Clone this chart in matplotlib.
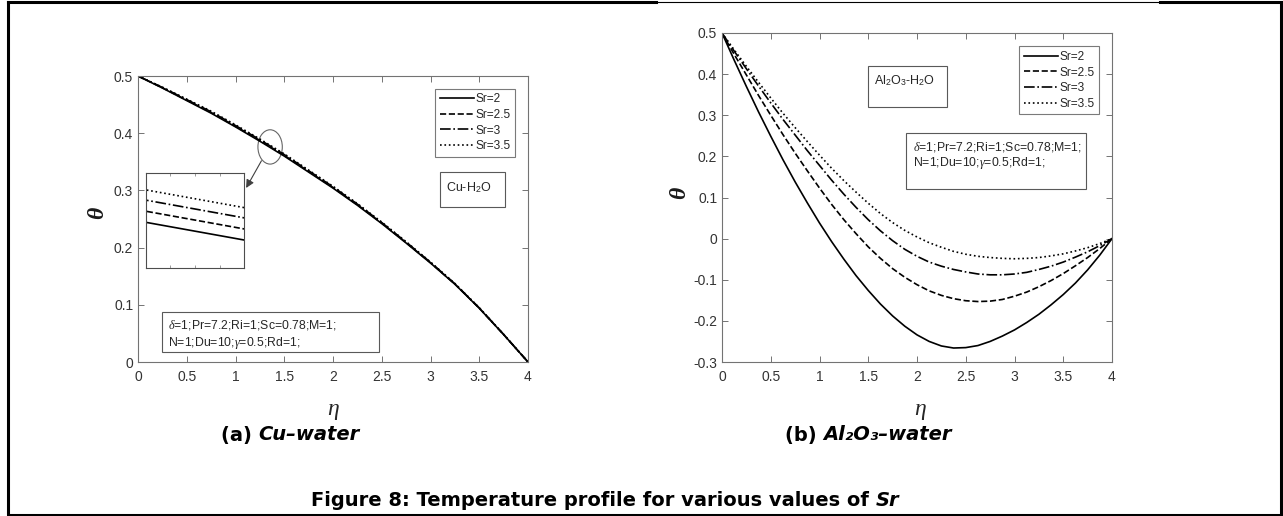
import matplotlib
matplotlib.use('Agg')
import matplotlib.pyplot as plt
from matplotlib.patches import Rectangle, Ellipse
from matplotlib.lines import Line2D

plt.rcParams['font.family'] = ['Liberation Sans', 'DejaVu Sans']
plt.rcParams['mathtext.fontset'] = 'custom'
plt.rcParams['mathtext.rm'] = 'Liberation Sans'
plt.rcParams['mathtext.it'] = 'Liberation Serif:italic'

# data
sr_labels = ['Sr=2', 'Sr=2.5', 'Sr=3', 'Sr=3.5']

# (a) Cu-water
eta_a = [0, 0.25, 0.5, 0.75, 1.0, 1.25, 1.5, 1.75, 2.0, 2.25, 2.5, 2.75, 3.0, 3.25, 3.5, 3.75, 4.0]
cu_sr2 = [0.5, 0.479, 0.457, 0.435, 0.411, 0.386, 0.360, 0.332, 0.304, 0.274, 0.242, 0.208, 0.173, 0.136, 0.094, 0.048, 0.0]
cu_sr25 = [0.5, 0.4795, 0.4579, 0.4362, 0.4122, 0.3873, 0.3613, 0.3332, 0.3051, 0.2750, 0.2429, 0.2088, 0.1736, 0.1364, 0.0943, 0.0481, 0.0]
cu_sr3 = [0.5, 0.4800, 0.4587, 0.4374, 0.4134, 0.3886, 0.3626, 0.3344, 0.3062, 0.2760, 0.2438, 0.2096, 0.1742, 0.1368, 0.0946, 0.0482, 0.0]
cu_sr35 = [0.5, 0.4805, 0.4595, 0.4385, 0.4146, 0.3898, 0.3638, 0.3355, 0.3072, 0.2769, 0.2446, 0.2103, 0.1748, 0.1372, 0.0949, 0.0483, 0.0]

# (b) Al2O3-water
eta_b = [0, 0.125, 0.25, 0.375, 0.5, 0.625, 0.75, 0.875, 1.0, 1.125, 1.25, 1.375, 1.5, 1.625,
         1.75, 1.875, 2.0, 2.125, 2.25, 2.375, 2.5, 2.625, 2.75, 2.875, 3.0, 3.125, 3.25,
         3.375, 3.5, 3.625, 3.75, 3.875, 4.0]
al_sr2 = [0.5, 0.434, 0.370, 0.308, 0.249, 0.192, 0.138, 0.087, 0.038, -0.0075, -0.050, -0.090,
          -0.126, -0.159, -0.188, -0.213, -0.234, -0.250, -0.261, -0.266, -0.265, -0.260, -0.250,
          -0.237, -0.222, -0.204, -0.184, -0.161, -0.136, -0.108, -0.076, -0.040, 0.0]
al_sr25 = [0.5, 0.448, 0.398, 0.348, 0.300, 0.253, 0.208, 0.165, 0.123, 0.083, 0.046, 0.012,
           -0.020, -0.048, -0.073, -0.094, -0.112, -0.127, -0.138, -0.146, -0.151, -0.153, -0.152,
           -0.148, -0.140, -0.130, -0.117, -0.102, -0.085, -0.066, -0.046, -0.024, 0.0]
al_sr3 = [0.5, 0.456, 0.413, 0.371, 0.330, 0.290, 0.252, 0.214, 0.178, 0.142, 0.108, 0.076,
          0.046, 0.019, -0.005, -0.026, -0.043, -0.057, -0.067, -0.075, -0.081, -0.086, -0.088,
          -0.088, -0.086, -0.082, -0.075, -0.067, -0.057, -0.045, -0.032, -0.017, 0.0]
al_sr35 = [0.5, 0.459, 0.419, 0.380, 0.342, 0.305, 0.270, 0.236, 0.203, 0.171, 0.141, 0.113,
           0.086, 0.061, 0.039, 0.020, 0.004, -0.010, -0.021, -0.031, -0.038, -0.043, -0.046,
           -0.048, -0.049, -0.048, -0.046, -0.042, -0.037, -0.030, -0.022, -0.012, 0.0]

xticks = [0, 0.5, 1, 1.5, 2, 2.5, 3, 3.5, 4]
xticklabels = ['0', '0.5', '1', '1.5', '2', '2.5', '3', '3.5', '4']
yticks_a = [0, 0.1, 0.2, 0.3, 0.4, 0.5]
yticklabels_a = ['0', '0.1', '0.2', '0.3', '0.4', '0.5']
yticks_b = [-0.3, -0.2, -0.1, 0, 0.1, 0.2, 0.3, 0.4, 0.5]
yticklabels_b = ['-0.3', '-0.2', '-0.1', '0', '0.1', '0.2', '0.3', '0.4', '0.5']

params1 = r'$\delta$=1;Pr=7.2;Ri=1;Sc=0.78;M=1;'
params2 = r'N=1;Du=10;$\gamma$=0.5;Rd=1;'

styles = ['-', '--', '-.', ':']
W, H = 1283, 516
spine_c = '0.45'
box_c = '0.35'

fig = plt.figure(figsize=(W / 100, H / 100), dpi=100)
renderer = fig.canvas.get_renderer()

ax1 = fig.add_axes([138 / W, 1 - 362 / H, 390 / W, 286 / H])
ax2 = fig.add_axes([722 / W, 1 - 362 / H, 390 / W, 329 / H])


def style_axes(ax, yt, ytl, ylim):
    ax.set_xlim(0, 4)
    ax.set_ylim(*ylim)
    ax.set_xticks(xticks)
    ax.set_xticklabels(xticklabels)
    ax.set_yticks(yt)
    ax.set_yticklabels(ytl)
    ax.tick_params(direction='in', top=True, right=True, length=4, width=0.7,
                   colors=spine_c, labelcolor='0.2', labelsize=10)
    ax.tick_params(axis='x', pad=6)
    for s in ax.spines.values():
        s.set_color(spine_c)
        s.set_linewidth(0.8)


def add_legend(ax, x1, y1):
    handles = [Line2D([], [], color='black', lw=1.2, ls=st) for st in styles]
    leg = ax.legend(handles, sr_labels, loc='upper right', bbox_to_anchor=(x1, y1),
                    bbox_transform=ax.transData, fontsize=8.6, frameon=True,
                    fancybox=False, handlelength=2.9, handletextpad=0.1,
                    labelspacing=0.3, borderpad=0.4, borderaxespad=0)
    leg.get_frame().set_edgecolor(box_c)
    leg.get_frame().set_linewidth(0.8)
    for t in leg.get_texts():
        t.set_color('0.15')


def add_box(ax, x0, y0, x1, y1):
    ax.add_patch(Rectangle((x0, y0), x1 - x0, y1 - y0, fill=False,
                           edgecolor=box_c, lw=0.8, zorder=3))


def two_part(xc, y, part1, part2, size):
    # bold upright part followed by bold italic part, centred as a whole
    t1 = fig.text(0, 1 - y / H, part1, fontsize=size, weight='bold', family='DejaVu Sans',
                  ha='left', va='center')
    t2 = fig.text(0, 1 - y / H, part2, fontsize=size, weight='bold', style='italic',
                  family='DejaVu Sans', ha='left', va='center')
    w1 = t1.get_window_extent(renderer).width
    w2 = t2.get_window_extent(renderer).width
    x0 = xc - (w1 + w2) / 2
    t1.set_x(x0 / W)
    t2.set_x((x0 + w1) / W)


# (a)
for y, st in zip([cu_sr2, cu_sr25, cu_sr3, cu_sr35], styles):
    ax1.plot(eta_a, y, color='black', ls=st, lw=1.2)
style_axes(ax1, yticks_a, yticklabels_a, (0, 0.5))
add_legend(ax1, 3.87, 0.478)
add_box(ax1, 3.10, 0.271, 3.76, 0.333)
ax1.text(3.16, 0.305, 'Cu-H$_2$O', fontsize=9, color='0.15', va='center')
add_box(ax1, 0.25, 0.017, 2.47, 0.087)
ax1.text(0.31, 0.064, params1, fontsize=8.8, color='0.15', va='center')
ax1.text(0.31, 0.034, params2, fontsize=8.8, color='0.15', va='center')

# zoom circle, arrow and inset
ax1.add_patch(Ellipse((1.355, 0.376), 0.25, 0.06, fill=False, edgecolor='0.4', lw=0.8))
ax1.annotate('', xy=(1.095, 0.30), xytext=(1.28, 0.356),
             arrowprops=dict(arrowstyle='-|>', color='0.25', lw=0.8, mutation_scale=12))
axin = ax1.inset_axes([0.08, 0.164, 1.01, 0.167], transform=ax1.transData)
for y, st in zip([cu_sr2, cu_sr25, cu_sr3, cu_sr35], styles):
    axin.plot(eta_a, y, color='black', ls=st, lw=1.2)
axin.set_xlim(1.34, 1.36)
axin.set_ylim(0.37126, 0.38246)
axin.set_xticks([1.345, 1.35, 1.355])
axin.set_yticks([])
axin.tick_params(direction='in', top=True, length=2, width=0.5, colors=spine_c,
                 labelbottom=False)
for s in axin.spines.values():
    s.set_color('0.3')
    s.set_linewidth(0.8)

# (b)
for y, st in zip([al_sr2, al_sr25, al_sr3, al_sr35], styles):
    ax2.plot(eta_b, y, color='black', ls=st, lw=1.2)
style_axes(ax2, yticks_b, yticklabels_b, (-0.3, 0.5))
add_legend(ax2, 3.87, 0.468)
add_box(ax2, 1.50, 0.320, 2.31, 0.419)
ax2.text(1.56, 0.384, 'Al$_2$O$_3$-H$_2$O', fontsize=9, color='0.15', va='center')
add_box(ax2, 1.89, 0.121, 3.73, 0.258)
ax2.text(1.96, 0.224, params1, fontsize=8.8, color='0.15', va='center')
ax2.text(1.96, 0.183, params2, fontsize=8.8, color='0.15', va='center')

# axis labels
for x_eta, x_th, y_th in [(333, 98, 213), (920, 680, 193)]:
    fig.text(x_eta / W, 1 - 410 / H, 'η', fontsize=17, family='Liberation Serif',
             style='italic', ha='center', va='center', color='0.15')
    fig.text(x_th / W, 1 - y_th / H, 'θ', fontsize=17, family='Liberation Serif',
             style='italic', weight='bold', ha='center', va='center', rotation=90,
             color='0.1')

# sub captions and caption
two_part(290, 435, '(a) ', 'Cu–water', 14)
two_part(868, 435, '(b) ', 'Al₂O₃–water', 14)
two_part(605, 500, 'Figure 8: Temperature profile for various values of ', 'Sr', 14)

# page frame
fig.add_artist(Line2D([8 / W, 8 / W, 1281 / W, 1281 / W], [1 - 2 / H, 1 - 515 / H, 1 - 515 / H, 1 - 2 / H],
                      transform=fig.transFigure, color='black', lw=2.2))
fig.add_artist(Line2D([8 / W, 656 / W], [1 - 2 / H, 1 - 2 / H], transform=fig.transFigure,
                      color='black', lw=2.2))
fig.add_artist(Line2D([656 / W, 1160 / W], [1 - 1.5 / H, 1 - 1.5 / H], transform=fig.transFigure,
                      color='black', lw=0.8))
fig.add_artist(Line2D([1160 / W, 1281 / W], [1 - 2 / H, 1 - 2 / H], transform=fig.transFigure,
                      color='black', lw=2.2))

fig.savefig('out.png', dpi=100)
